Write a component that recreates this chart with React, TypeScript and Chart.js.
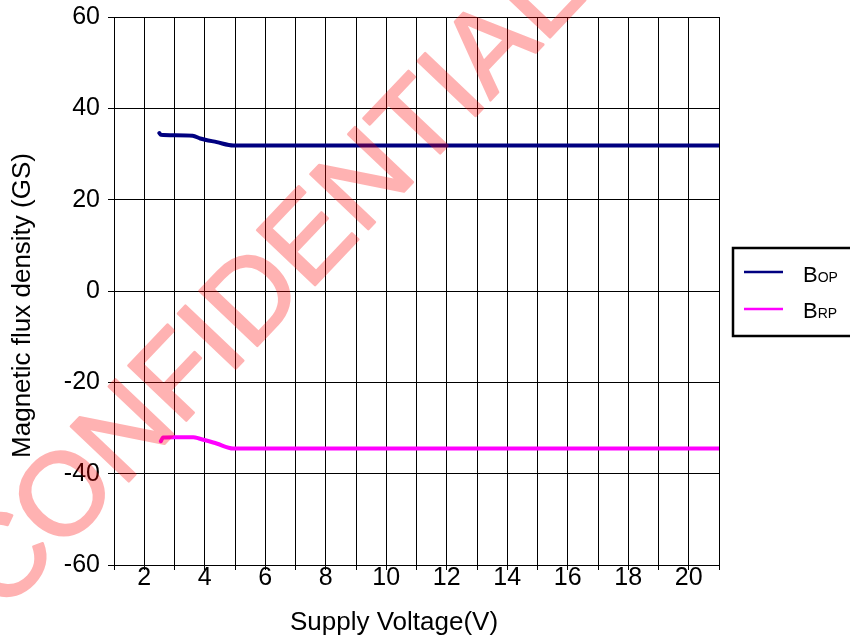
import React, { useEffect, useRef } from "react";
import { Chart, registerables } from "chart.js";

Chart.register(...registerables);

// ---- data ----
const bopVoltage = [2.5, 2.55, 3.0, 3.6, 3.85, 4.4, 4.95, 21];
const bopFlux = [34.6, 34.2, 34.1, 34.0, 33.4, 32.6, 31.85, 31.85];
const brpVoltage = [2.55, 2.62, 3.0, 3.62, 3.84, 4.39, 4.94, 21];
const brpFlux = [-32.9, -32.1, -32.0, -32.0, -32.35, -33.4, -34.5, -34.5];

const seriesMain = ["B", "B"];
const seriesSub = ["OP", "RP"];
const seriesColors = ["#000080", "#FF00FF"];

const xRange = [1, 21];
const xTickLabels = [2, 4, 6, 8, 10, 12, 14, 16, 18, 20];
const yRange = [-60, 60];
const yTickLabels = [-60, -40, -20, 0, 20, 40, 60];

const xTitle = "Supply Voltage(V)";
const yTitle = "Magnetic flux density (GS)";
const watermarkText = "CONFIDENTIAL";

const FONT = "'Liberation Sans', Arial, sans-serif";

const overlayPlugin = {
  id: "overlay",
  afterDraw(chart: any) {
    const { ctx, chartArea: a } = chart;
    ctx.save();
    ctx.fillStyle = "#000";

    // x axis title
    ctx.font = `26px ${FONT}`;
    ctx.textAlign = "center";
    ctx.textBaseline = "alphabetic";
    ctx.fillText(xTitle, a.left + 280, a.bottom + 65);

    // y axis title
    ctx.save();
    ctx.translate(a.left - 84, (a.top + a.bottom) / 2 + 14.5);
    ctx.rotate(-Math.PI / 2);
    ctx.fillText(yTitle, 0, 0);
    ctx.restore();

    // legend
    const lx = a.right + 14;
    const ly = a.top + 231;
    ctx.lineWidth = 2.5;
    ctx.strokeStyle = "#000";
    ctx.strokeRect(lx, ly, 140, 88);
    chart.data.datasets.forEach((ds: any, i: number) => {
      const cy = ly + 24 + i * 37;
      ctx.beginPath();
      ctx.strokeStyle = ds.borderColor;
      ctx.lineWidth = 2.5;
      ctx.moveTo(lx + 11, cy);
      ctx.lineTo(lx + 50, cy);
      ctx.stroke();
      ctx.fillStyle = "#000";
      ctx.textAlign = "left";
      ctx.textBaseline = "alphabetic";
      ctx.font = `22px ${FONT}`;
      const tx = lx + 70;
      const by = cy + 10 - i * 1;
      ctx.fillText(seriesMain[i], tx, by);
      const w = ctx.measureText(seriesMain[i]).width;
      ctx.font = `14px ${FONT}`;
      ctx.fillText(seriesSub[i], tx + w, by);
    });

    // watermark (drawn opaque off-screen, then blended once)
    const off = document.createElement("canvas");
    off.width = chart.canvas.width;
    off.height = chart.canvas.height;
    const o = off.getContext("2d");
    if (o) {
      const r = chart.currentDevicePixelRatio || 1;
      o.scale(r, r);
      o.translate(272, 284);
      o.rotate((-46.5 * Math.PI) / 180);
      o.font = `116px ${FONT}`;
      o.fillStyle = "#FF0000";
      o.strokeStyle = "#FF0000";
      o.lineWidth = 2.5;
      o.lineJoin = "round";
      o.textAlign = "center";
      o.textBaseline = "middle";
      o.fillText(watermarkText, 0, 0);
      o.strokeText(watermarkText, 0, 0);
      ctx.setTransform(1, 0, 0, 1, 0, 0);
      ctx.globalAlpha = 0.3;
      ctx.drawImage(off, 0, 0);
    }

    ctx.restore();
  },
};

export default function App() {
  const ref = useRef<HTMLCanvasElement | null>(null);

  useEffect(() => {
    if (!ref.current) return;
    const chart = new Chart(ref.current, {
      type: "line",
      data: {
        datasets: [
          {
            label: seriesMain[0] + seriesSub[0],
            data: bopVoltage.map((x, i) => ({ x, y: bopFlux[i] })),
            borderColor: seriesColors[0],
            backgroundColor: seriesColors[0],
            borderWidth: 4,
            pointRadius: 0,
            cubicInterpolationMode: "monotone",
            borderCapStyle: "round",
            borderJoinStyle: "round",
          },
          {
            label: seriesMain[1] + seriesSub[1],
            data: brpVoltage.map((x, i) => ({ x, y: brpFlux[i] })),
            borderColor: seriesColors[1],
            backgroundColor: seriesColors[1],
            borderWidth: 4,
            pointRadius: 0,
            cubicInterpolationMode: "monotone",
            borderCapStyle: "round",
            borderJoinStyle: "round",
          },
        ],
      },
      options: {
        animation: false,
        responsive: true,
        maintainAspectRatio: false,
        layout: { padding: { top: 17, right: 131, left: 0, bottom: 0 } },
        plugins: {
          legend: { display: false },
          title: { display: false },
          tooltip: { enabled: false },
        },
        scales: {
          x: {
            type: "linear",
            min: xRange[0],
            max: xRange[1],
            afterFit: (s: any) => {
              s.height = 74;
              s.paddingLeft = 0;
              s.paddingRight = 0;
            },
            ticks: {
              stepSize: 1,
              autoSkip: false,
              maxRotation: 0,
              minRotation: 0,
              padding: -7,
              color: "#000",
              font: { family: FONT, size: 25 },
              callback: (v: any) => (xTickLabels.includes(Number(v)) ? String(v) : ""),
            },
            grid: { color: "#000", lineWidth: 1, tickLength: 5, drawTicks: true },
            border: { color: "#000", width: 1 },
          },
          y: {
            type: "linear",
            min: yRange[0],
            max: yRange[1],
            afterFit: (s: any) => {
              s.width = 114;
              s.paddingTop = 0;
              s.paddingBottom = 0;
            },
            ticks: {
              stepSize: 20,
              autoSkip: false,
              padding: 8,
              color: "#000",
              font: { family: FONT, size: 25 },
              callback: (v: any) => (yTickLabels.includes(Number(v)) ? String(v) : ""),
            },
            grid: { color: "#000", lineWidth: 1, tickLength: 6, drawTicks: true },
            border: { color: "#000", width: 1 },
          },
        },
      } as any,
      plugins: [overlayPlugin],
    });
    return () => chart.destroy();
  }, []);

  return (
    <div style={{ position: "absolute", left: 0, top: 0, width: 850, height: 639, background: "#fff" }}>
      <canvas ref={ref} />
    </div>
  );
}
